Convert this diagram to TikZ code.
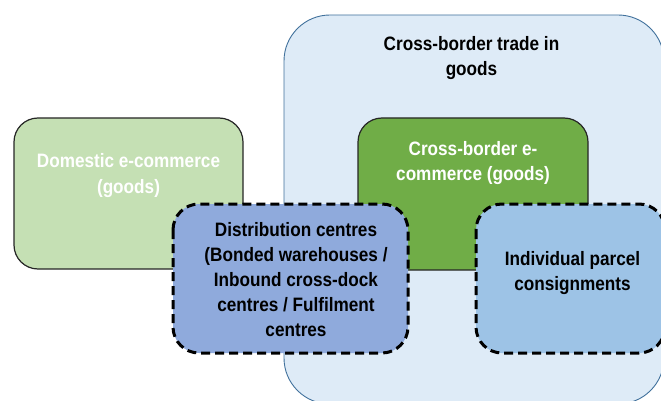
\documentclass[tikz,border=0pt]{standalone}
\usepackage{fontspec}
\setmainfont[FakeStretch=0.885]{Liberation Sans}
\definecolor{tradefill}{HTML}{DEEBF7}
\definecolor{tradeline}{HTML}{41719C}
\definecolor{domfill}{HTML}{C5E0B4}
\definecolor{xbfill}{HTML}{70AD47}
\definecolor{distfill}{HTML}{8FAADC}
\definecolor{parcelfill}{HTML}{9DC3E6}
\tikzset{
  x=1pt, y=-1pt,
  tradebox/.style={fill=tradefill, draw=tradeline, line width=0.9pt, rounded corners=46pt},
  solidbox/.style={draw=black!85, line width=1.2pt, rounded corners=24pt},
  dashbox/.style={draw=black, line width=3pt, dash pattern=on 9pt off 5pt, rounded corners=26pt},
  % anchored at the baseline of the last line
  lbl/.style={font=\bfseries\fontsize{19.4}{25}\selectfont, align=center, inner sep=0pt, anchor=base},
}
\begin{document}
\begin{tikzpicture}
\useasboundingbox (0,0) rectangle (661,401);
\clip (0,0) rectangle (661,401);
% outer region: cross-border trade
\draw[tradebox] (284,15) rectangle (664,404);
\node[lbl, text=black] (tradelbl) at (471.5,76) {Cross-border trade in\\goods};
% domestic e-commerce
\draw[solidbox, fill=domfill] (14,118) rectangle (243,269);
\node[lbl, text=white] (domlbl) at (128.5,193) {Domestic e-commerce\\(goods)};
% cross-border e-commerce
\draw[solidbox, fill=xbfill] (358,118) rectangle (588,270);
\node[lbl, text=white] (xblbl) at (473,180) {Cross-border e-\\commerce (goods)};
% distribution centres
\draw[dashbox, fill=distfill] (173,204) rectangle (408,353);
\node[lbl, text=black] (distlbl) at (296,336.5) {Distribution centres\\(Bonded warehouses /\\Inbound cross-dock\\centres / Fulfilment\\centres};
% individual parcels
\draw[dashbox, fill=parcelfill] (476,204) rectangle (665,353);
\node[lbl, text=black] (parcellbl) at (572.5,290) {Individual parcel\\consignments};
\end{tikzpicture}
\end{document}
